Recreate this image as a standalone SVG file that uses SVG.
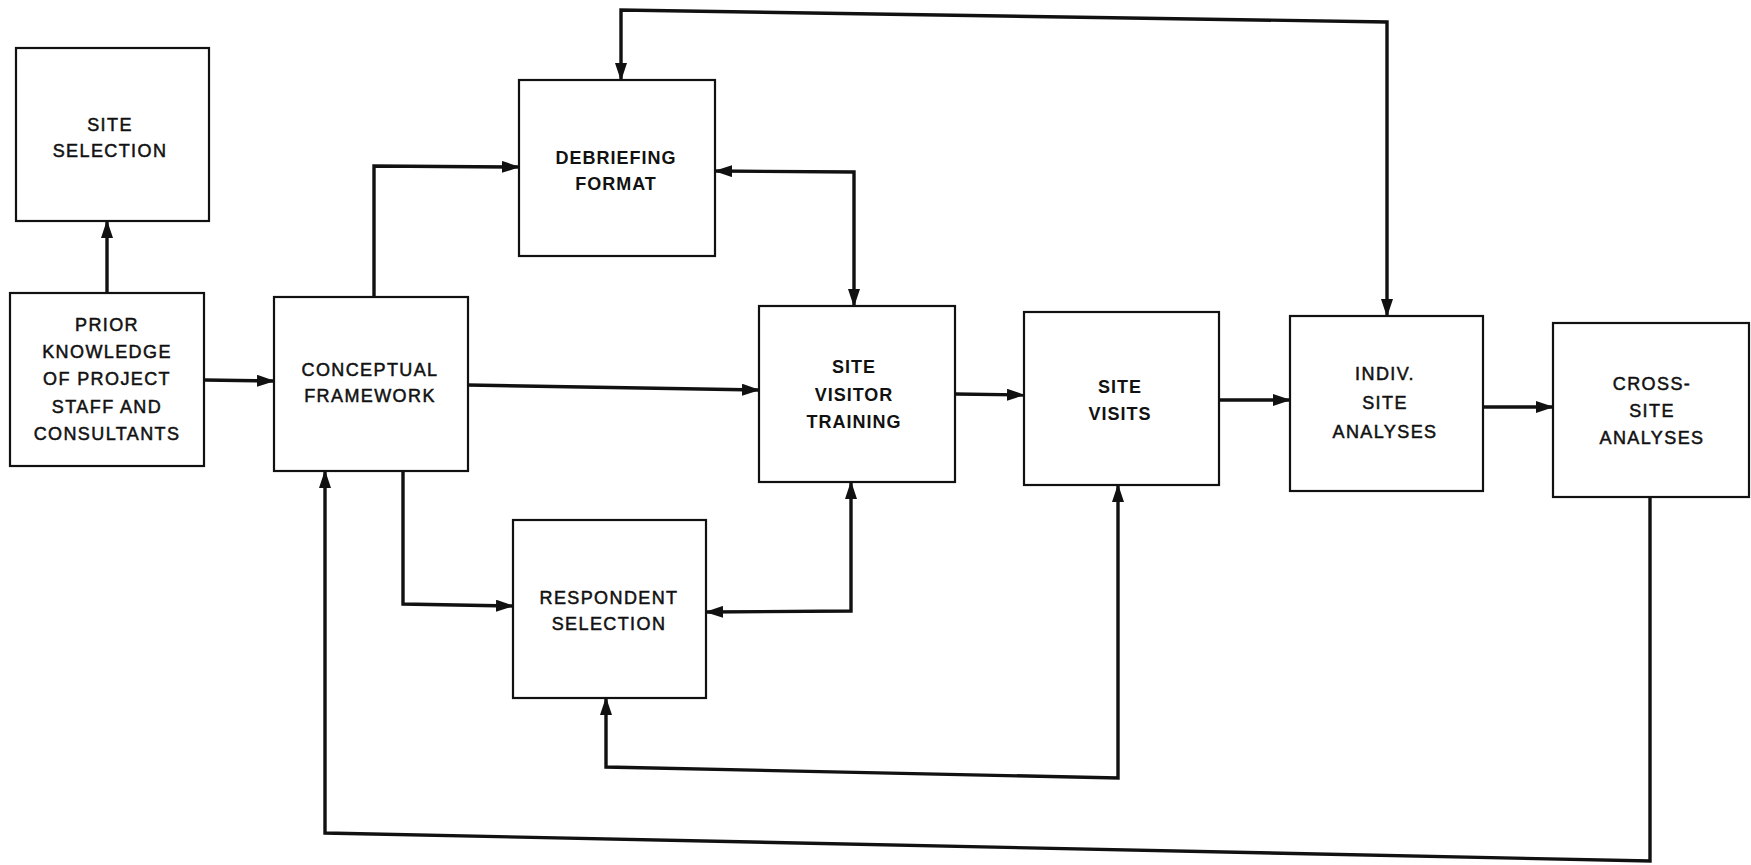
<svg xmlns="http://www.w3.org/2000/svg" width="1751" height="865" viewBox="0 0 1751 865">
  <style>
    .box { fill: #ffffff; stroke: #111111; stroke-width: 2.2; }
    .lbl { font-family: "Liberation Sans", Arial, sans-serif; font-size: 18px; letter-spacing: 1.4px; fill: #111111; stroke: #111111; stroke-width: 0.5; text-anchor: middle; }
    .b { font-weight: bold; letter-spacing: 1px; stroke-width: 0; }
    .wire { fill: none; stroke: #111111; stroke-width: 3.4; stroke-linejoin: miter; }
    .one { marker-end: url(#head); }
    .two { marker-start: url(#head); marker-end: url(#head); }
  </style>
  <defs>
    <marker id="head" markerUnits="userSpaceOnUse" markerWidth="18" markerHeight="12" refX="17" refY="6" orient="auto-start-reverse">
      <path d="M0,0 L18,6 L0,12 z" fill="#111111"/>
    </marker>
  </defs>
  <rect width="1751" height="865" fill="#ffffff"/>

  <g id="connectors">
    <path class="wire one" d="M107,293 L107,221"/>
    <path class="wire one" d="M204,380 L274,381"/>
    <path class="wire one" d="M374,297 L374,166 L519,167"/>
    <path class="wire one" d="M468,385 L759,390"/>
    <path class="wire one" d="M403,471 L403,604 L513,606"/>
    <path class="wire two" d="M715,171 L854,172 L854,306"/>
    <path class="wire two" d="M851,482 L851,611 L706,612"/>
    <path class="wire one" d="M955,394 L1024,395"/>
    <path class="wire one" d="M1219,400 L1290,400"/>
    <path class="wire one" d="M1483,407 L1553,407"/>
    <path class="wire two" d="M621,80 L621,10 L1387,22 L1387,316"/>
    <path class="wire two" d="M1118,485 L1118,778 L606,767 L606,698"/>
    <path class="wire one" d="M1650,497 L1650,861 L325,833 L325,471"/>
  </g>

  <g id="site-selection">
    <rect class="box" x="16" y="48" width="193" height="173"/>
    <text class="lbl" x="110" y="131">SITE</text>
    <text class="lbl" x="110" y="157">SELECTION</text>
  </g>

  <g id="prior-knowledge">
    <rect class="box" x="10" y="293" width="194" height="173"/>
    <text class="lbl" x="107" y="331">PRIOR</text>
    <text class="lbl" x="107" y="358">KNOWLEDGE</text>
    <text class="lbl" x="107" y="385">OF PROJECT</text>
    <text class="lbl" x="107" y="413">STAFF AND</text>
    <text class="lbl" x="107" y="440">CONSULTANTS</text>
  </g>

  <g id="conceptual-framework">
    <rect class="box" x="274" y="297" width="194" height="174"/>
    <text class="lbl" x="370" y="376">CONCEPTUAL</text>
    <text class="lbl" x="370" y="402">FRAMEWORK</text>
  </g>

  <g id="debriefing-format">
    <rect class="box" x="519" y="80" width="196" height="176"/>
    <text class="lbl b" x="616" y="164">DEBRIEFING</text>
    <text class="lbl b" x="616" y="190">FORMAT</text>
  </g>

  <g id="site-visitor-training">
    <rect class="box" x="759" y="306" width="196" height="176"/>
    <text class="lbl b" x="854" y="373">SITE</text>
    <text class="lbl b" x="854" y="401">VISITOR</text>
    <text class="lbl b" x="854" y="428">TRAINING</text>
  </g>

  <g id="respondent-selection">
    <rect class="box" x="513" y="520" width="193" height="178"/>
    <text class="lbl" x="609" y="604">RESPONDENT</text>
    <text class="lbl" x="609" y="630">SELECTION</text>
  </g>

  <g id="site-visits">
    <rect class="box" x="1024" y="312" width="195" height="173"/>
    <text class="lbl b" x="1120" y="393">SITE</text>
    <text class="lbl b" x="1120" y="420">VISITS</text>
  </g>

  <g id="indiv-site-analyses">
    <rect class="box" x="1290" y="316" width="193" height="175"/>
    <text class="lbl" x="1385" y="380">INDIV.</text>
    <text class="lbl" x="1385" y="409">SITE</text>
    <text class="lbl" x="1385" y="438">ANALYSES</text>
  </g>

  <g id="cross-site-analyses">
    <rect class="box" x="1553" y="323" width="196" height="174"/>
    <text class="lbl" x="1652" y="390">CROSS-</text>
    <text class="lbl" x="1652" y="417">SITE</text>
    <text class="lbl" x="1652" y="444">ANALYSES</text>
  </g>
</svg>
